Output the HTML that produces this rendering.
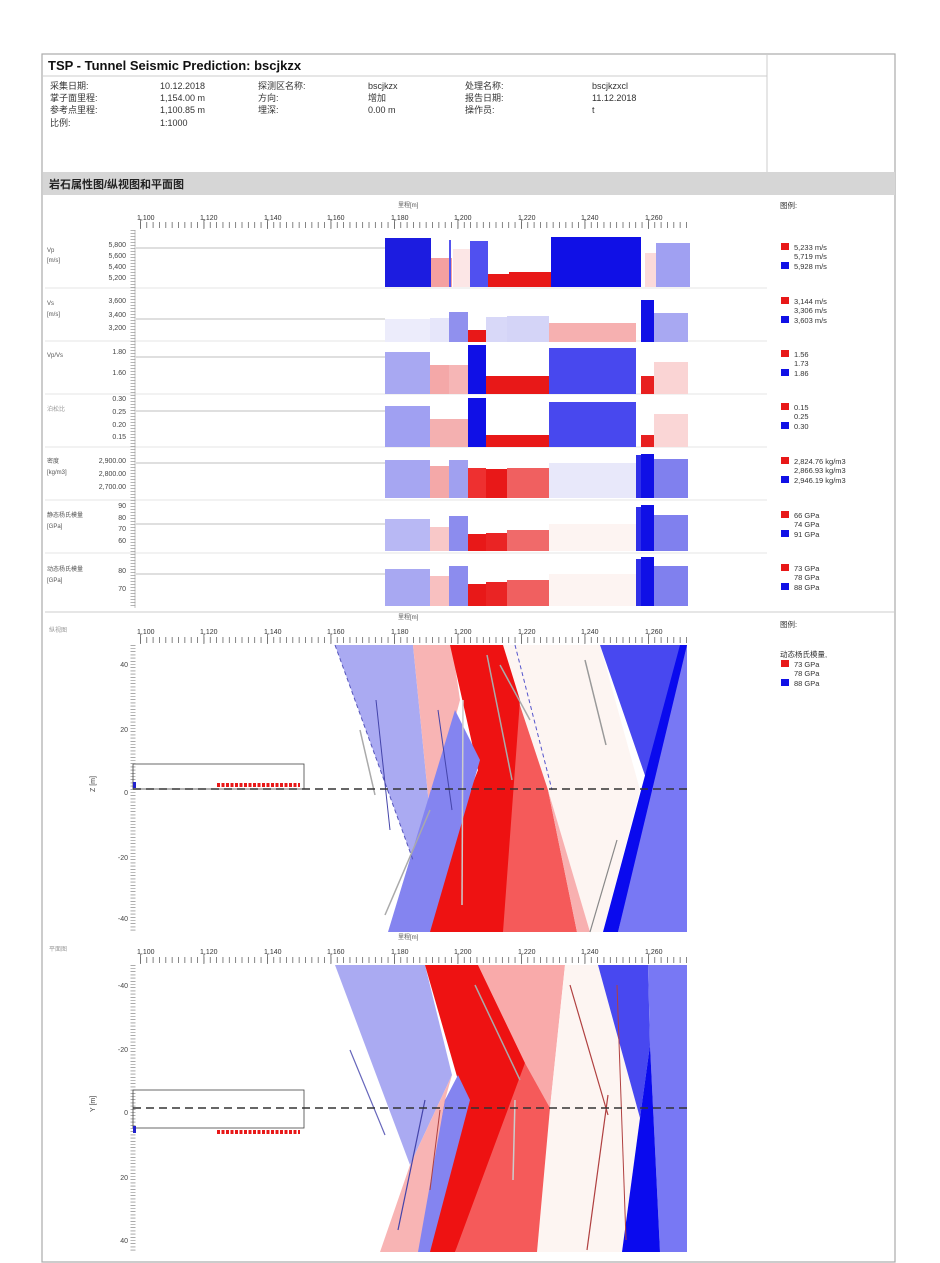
<!DOCTYPE html>
<html><head><meta charset="utf-8"><style>
body{margin:0;background:#fff;}
svg{display:block;font-family:"Liberation Sans","Noto Sans CJK SC",sans-serif;}
</style></head><body>
<svg width="940" height="1263" viewBox="0 0 940 1263" xmlns="http://www.w3.org/2000/svg">
<rect x="0" y="0" width="940" height="1263" fill="#fff"/>
<rect x="42" y="54" width="853" height="1208" fill="none" stroke="#aaa" stroke-width="1.2"/>
<line x1="42" y1="76" x2="767" y2="76" stroke="#ccc"/>
<line x1="767" y1="54" x2="767" y2="172" stroke="#ccc"/>
<text x="48" y="70" font-size="13" font-weight="bold" fill="#111">TSP - Tunnel Seismic Prediction: bscjkzx</text>
<g font-size="9" fill="#333">
<text x="50" y="89">采集日期:</text><text x="160" y="89">10.12.2018</text><text x="258" y="89">探测区名称:</text><text x="368" y="89">bscjkzx</text><text x="465" y="89">处理名称:</text><text x="592" y="89">bscjkzxcl</text>
<text x="50" y="101">掌子面里程:</text><text x="160" y="101">1,154.00 m</text><text x="258" y="101">方向:</text><text x="368" y="101">增加</text><text x="465" y="101">报告日期:</text><text x="592" y="101">11.12.2018</text>
<text x="50" y="113">参考点里程:</text><text x="160" y="113">1,100.85 m</text><text x="258" y="113">埋深:</text><text x="368" y="113">0.00 m</text><text x="465" y="113">操作员:</text><text x="592" y="113">t</text>
<text x="50" y="126">比例:</text><text x="160" y="126">1:1000</text>
</g>
<rect x="43" y="172" width="852" height="23" fill="#d6d6d6"/>
<text x="49" y="188" font-size="11" font-weight="bold" fill="#222">岩石属性图/纵视图和平面图</text>

<!-- top axis -->
<text x="398" y="207" font-size="6" fill="#555">里程[m]</text>
<g font-size="7" fill="#333">
<text x="137" y="220">1,100</text><text x="200" y="220">1,120</text><text x="264" y="220">1,140</text><text x="327" y="220">1,160</text><text x="391" y="220">1,180</text><text x="454" y="220">1,200</text><text x="518" y="220">1,220</text><text x="581" y="220">1,240</text><text x="645" y="220">1,260</text>
</g>
<line x1="140" y1="225" x2="687" y2="225" stroke="#666" stroke-width="6" stroke-dasharray="0.8 5.55"/>
<line x1="140" y1="224" x2="687" y2="224" stroke="#666" stroke-width="10" stroke-dasharray="0.8 62.7"/>
<g stroke="#e6e6e6" stroke-width="1">
<line x1="45" y1="288" x2="767" y2="288"/><line x1="45" y1="341" x2="767" y2="341"/><line x1="45" y1="394" x2="767" y2="394"/><line x1="45" y1="447" x2="767" y2="447"/><line x1="45" y1="500" x2="767" y2="500"/><line x1="45" y1="553" x2="767" y2="553"/><line x1="45" y1="612" x2="895" y2="612" stroke="#ccc"/>
</g>
<line x1="133" y1="230" x2="133" y2="608" stroke="#888" stroke-width="5" stroke-dasharray="0.6 2.4"/>
<line x1="135" y1="230" x2="135" y2="608" stroke="#999" stroke-width="0.6"/>
<g font-size="7" fill="#444" text-anchor="end">
<text x="126" y="247">5,800</text><text x="126" y="258">5,600</text><text x="126" y="269">5,400</text><text x="126" y="280">5,200</text>
<text x="126" y="303">3,600</text><text x="126" y="317">3,400</text><text x="126" y="330">3,200</text>
<text x="126" y="354">1.80</text><text x="126" y="375">1.60</text>
<text x="126" y="401">0.30</text><text x="126" y="414">0.25</text><text x="126" y="427">0.20</text><text x="126" y="439">0.15</text>
<text x="126" y="463">2,900.00</text><text x="126" y="476">2,800.00</text><text x="126" y="489">2,700.00</text>
<text x="126" y="508">90</text><text x="126" y="520">80</text><text x="126" y="531">70</text><text x="126" y="543">60</text>
<text x="126" y="573">80</text><text x="126" y="591">70</text>
</g>
<g font-size="6" fill="#555">
<text x="47" y="252">Vp</text><text x="47" y="262">[m/s]</text>
<text x="47" y="305">Vs</text><text x="47" y="316">[m/s]</text>
<text x="47" y="357">Vp/Vs</text>
<text x="47" y="411" fill="#999">泊松比</text>
<text x="47" y="463">密度</text><text x="47" y="474">[kg/m3]</text>
<text x="47" y="517">静态杨氏模量</text><text x="47" y="528">[GPa]</text>
<text x="47" y="571">动态杨氏模量</text><text x="47" y="582">[GPa]</text>
</g>
<g stroke="#aaa" stroke-width="0.8">
<line x1="136" y1="248" x2="385" y2="248"/><line x1="136" y1="319" x2="385" y2="319"/><line x1="136" y1="357" x2="385" y2="357"/><line x1="136" y1="411" x2="385" y2="411"/><line x1="136" y1="463" x2="385" y2="463"/><line x1="136" y1="524" x2="385" y2="524"/><line x1="136" y1="574" x2="385" y2="574"/>
</g>
<!-- Vp -->
<g>
<rect x="385" y="238" width="46" height="49" fill="#1c1ce0"/>
<rect x="431" y="258" width="21" height="29" fill="#f4a0a0"/>
<rect x="453" y="249" width="17" height="38" fill="#fce6e6"/>
<rect x="449" y="240" width="2" height="47" fill="#5555ee"/>
<rect x="470" y="241" width="18" height="46" fill="#5050f0"/>
<rect x="488" y="274" width="21" height="13" fill="#e81818"/>
<rect x="509" y="272" width="42" height="15" fill="#e81818"/>
<rect x="551" y="237" width="90" height="50" fill="#1010e6"/>
<rect x="645" y="253" width="11" height="34" fill="#fbdada"/>
<rect x="656" y="243" width="34" height="44" fill="#a0a0f2"/>
<!-- Vs -->
<rect x="385" y="319" width="45" height="23" fill="#ececfb"/>
<rect x="430" y="318" width="19" height="24" fill="#e6e6fa"/>
<rect x="449" y="312" width="19" height="30" fill="#9090ee"/>
<rect x="468" y="330" width="18" height="12" fill="#e81818"/>
<rect x="486" y="317" width="21" height="25" fill="#d8d8f8"/>
<rect x="507" y="316" width="42" height="26" fill="#d4d4f7"/>
<rect x="549" y="323" width="87" height="19" fill="#f6b0b0"/>
<rect x="641" y="300" width="13" height="42" fill="#1010e6"/>
<rect x="654" y="313" width="34" height="29" fill="#a8a8f2"/>
<!-- Vp/Vs -->
<rect x="385" y="352" width="45" height="42" fill="#a8a8f2"/>
<rect x="430" y="365" width="19" height="29" fill="#f4a8a8"/>
<rect x="449" y="365" width="19" height="29" fill="#f6b6b6"/>
<rect x="468" y="345" width="18" height="49" fill="#1010e6"/>
<rect x="486" y="376" width="63" height="18" fill="#e81818"/>
<rect x="549" y="348" width="87" height="46" fill="#4848ee"/>
<rect x="641" y="376" width="13" height="18" fill="#e82020"/>
<rect x="654" y="362" width="34" height="32" fill="#fad4d4"/>
<!-- Poisson -->
<rect x="385" y="406" width="45" height="41" fill="#a0a0f2"/>
<rect x="430" y="419" width="38" height="28" fill="#f4b0b0"/>
<rect x="468" y="398" width="18" height="49" fill="#1010e6"/>
<rect x="486" y="435" width="63" height="12" fill="#e81818"/>
<rect x="549" y="402" width="87" height="45" fill="#4848ee"/>
<rect x="641" y="435" width="13" height="12" fill="#e82020"/>
<rect x="654" y="414" width="34" height="33" fill="#fad6d6"/>
<!-- density -->
<rect x="385" y="460" width="45" height="38" fill="#a6a6f2"/>
<rect x="430" y="466" width="19" height="32" fill="#f4a8a8"/>
<rect x="449" y="460" width="19" height="38" fill="#a0a0f0"/>
<rect x="468" y="468" width="18" height="30" fill="#ee3030"/>
<rect x="486" y="469" width="21" height="29" fill="#e81818"/>
<rect x="507" y="468" width="42" height="30" fill="#f06060"/>
<rect x="549" y="463" width="87" height="35" fill="#e8e8fa"/>
<rect x="636" y="455" width="5" height="43" fill="#3030e8"/>
<rect x="641" y="454" width="13" height="44" fill="#1010e6"/>
<rect x="654" y="459" width="34" height="39" fill="#8080ee"/>
<!-- static -->
<rect x="385" y="519" width="45" height="32" fill="#b8b8f4"/>
<rect x="430" y="527" width="19" height="24" fill="#f8c8c8"/>
<rect x="449" y="516" width="19" height="35" fill="#8c8cee"/>
<rect x="468" y="534" width="18" height="17" fill="#e81818"/>
<rect x="486" y="533" width="21" height="18" fill="#ea2424"/>
<rect x="507" y="530" width="42" height="21" fill="#f06a6a"/>
<rect x="549" y="524" width="87" height="27" fill="#fdf4f2"/>
<rect x="636" y="507" width="5" height="44" fill="#3030e8"/>
<rect x="641" y="505" width="13" height="46" fill="#1010e6"/>
<rect x="654" y="515" width="34" height="36" fill="#8080ee"/>
<!-- dynamic -->
<rect x="385" y="569" width="45" height="37" fill="#a8a8f2"/>
<rect x="430" y="576" width="19" height="30" fill="#f8c0c0"/>
<rect x="449" y="566" width="19" height="40" fill="#8c8cee"/>
<rect x="468" y="584" width="18" height="22" fill="#e81818"/>
<rect x="486" y="582" width="21" height="24" fill="#ea2424"/>
<rect x="507" y="580" width="42" height="26" fill="#f06060"/>
<rect x="549" y="574" width="87" height="32" fill="#fdf4f2"/>
<rect x="636" y="559" width="5" height="47" fill="#3030e8"/>
<rect x="641" y="557" width="13" height="49" fill="#1010e6"/>
<rect x="654" y="566" width="34" height="40" fill="#8080ee"/>
</g>
<!-- legends -->
<g font-size="7.5" fill="#333">
<text x="780" y="208">图例:</text>
<rect x="781" y="243" width="8" height="7" fill="#e81818"/><text x="794" y="250">5,233 m/s</text><text x="794" y="259">5,719 m/s</text><rect x="781" y="262" width="8" height="7" fill="#1010e6"/><text x="794" y="269">5,928 m/s</text>
<rect x="781" y="297" width="8" height="7" fill="#e81818"/><text x="794" y="304">3,144 m/s</text><text x="794" y="313">3,306 m/s</text><rect x="781" y="316" width="8" height="7" fill="#1010e6"/><text x="794" y="323">3,603 m/s</text>
<rect x="781" y="350" width="8" height="7" fill="#e81818"/><text x="794" y="357">1.56</text><text x="794" y="366">1.73</text><rect x="781" y="369" width="8" height="7" fill="#1010e6"/><text x="794" y="376">1.86</text>
<rect x="781" y="403" width="8" height="7" fill="#e81818"/><text x="794" y="410">0.15</text><text x="794" y="419">0.25</text><rect x="781" y="422" width="8" height="7" fill="#1010e6"/><text x="794" y="429">0.30</text>
<rect x="781" y="457" width="8" height="7" fill="#e81818"/><text x="794" y="464">2,824.76 kg/m3</text><text x="794" y="473">2,866.93 kg/m3</text><rect x="781" y="476" width="8" height="7" fill="#1010e6"/><text x="794" y="483">2,946.19 kg/m3</text>
<rect x="781" y="511" width="8" height="7" fill="#e81818"/><text x="794" y="518">66 GPa</text><text x="794" y="527">74 GPa</text><rect x="781" y="530" width="8" height="7" fill="#1010e6"/><text x="794" y="537">91 GPa</text>
<rect x="781" y="564" width="8" height="7" fill="#e81818"/><text x="794" y="571">73 GPa</text><text x="794" y="580">78 GPa</text><rect x="781" y="583" width="8" height="7" fill="#1010e6"/><text x="794" y="590">88 GPa</text>
<text x="780" y="627">图例:</text>
<text x="780" y="657">动态杨氏模量,</text>
<rect x="781" y="660" width="8" height="7" fill="#e81818"/><text x="794" y="667">73 GPa</text><text x="794" y="676">78 GPa</text><rect x="781" y="679" width="8" height="7" fill="#1010e6"/><text x="794" y="686">88 GPa</text>
</g>

<!-- Longitudinal view -->
<text x="49" y="632" font-size="6" fill="#999">纵视图</text>
<text x="398" y="619" font-size="6" fill="#555">里程[m]</text>
<g font-size="7" fill="#333">
<text x="137" y="634">1,100</text><text x="200" y="634">1,120</text><text x="264" y="634">1,140</text><text x="327" y="634">1,160</text><text x="391" y="634">1,180</text><text x="454" y="634">1,200</text><text x="518" y="634">1,220</text><text x="581" y="634">1,240</text><text x="645" y="634">1,260</text>
</g>
<line x1="140" y1="640" x2="687" y2="640" stroke="#666" stroke-width="6" stroke-dasharray="0.8 5.55"/>
<line x1="140" y1="639" x2="687" y2="639" stroke="#666" stroke-width="10" stroke-dasharray="0.8 62.7"/>
<line x1="133" y1="645" x2="133" y2="932" stroke="#777" stroke-width="5" stroke-dasharray="0.6 2.6"/>
<g font-size="7" fill="#444" text-anchor="end"><text x="128" y="667">40</text><text x="128" y="732">20</text><text x="128" y="795">0</text><text x="128" y="860">-20</text><text x="128" y="921">-40</text></g>
<text x="95" y="792" font-size="7" fill="#444" transform="rotate(-90 95 792)">Z [m]</text>
<g>
<polygon points="335,645 413,645 430,815 413,860" fill="#aaaaf2"/>
<polygon points="413,645 452,645 460,700 430,815" fill="#f8b4b4"/>
<polygon points="500,645 600,645 640,790 603,932 590,932 548,790" fill="#fdf5f2"/>
<polygon points="500,645 548,790 577,932 503,932" fill="#f55a5a"/>
<polygon points="548,790 590,932 577,932" fill="#f8b0b0"/>
<polygon points="450,645 503,645 520,700 503,932 415,932 478,770" fill="#ee1212"/>
<polygon points="455,710 480,760 430,932 388,932" fill="#8484f0"/>
<polygon points="600,645 687,645 650,790" fill="#4848f0"/>
<polygon points="650,790 687,645 687,932 618,932" fill="#7878f4"/>
<polygon points="680,645 687,645 618,932 603,932" fill="#0a0aee"/>
<line x1="335" y1="645" x2="413" y2="860" stroke="#5555bb" stroke-width="1" stroke-dasharray="4 3"/>
<line x1="515" y1="645" x2="552" y2="790" stroke="#5555cc" stroke-width="1" stroke-dasharray="4 3"/>
<line x1="376" y1="700" x2="390" y2="830" stroke="#4444aa" stroke-width="1"/>
<line x1="438" y1="710" x2="452" y2="810" stroke="#4444aa" stroke-width="1"/>
<line x1="487" y1="655" x2="512" y2="780" stroke="#aaa" stroke-width="1.5"/>
<line x1="500" y1="665" x2="530" y2="720" stroke="#aaa" stroke-width="1.5"/>
<line x1="585" y1="660" x2="606" y2="745" stroke="#999" stroke-width="1.5"/>
<line x1="360" y1="730" x2="375" y2="795" stroke="#aaa" stroke-width="1.5"/>
<line x1="463" y1="700" x2="462" y2="905" stroke="#ccc" stroke-width="1.5"/>
<line x1="385" y1="915" x2="430" y2="810" stroke="#aaa" stroke-width="1.5"/>
<line x1="590" y1="932" x2="617" y2="840" stroke="#888" stroke-width="1.2"/>
</g>
<rect x="133" y="764" width="171" height="25" fill="none" stroke="#444" stroke-width="0.8"/>
<line x1="217" y1="785" x2="300" y2="785" stroke="#e81818" stroke-width="4" stroke-dasharray="3 1.5"/>
<rect x="133" y="782" width="3" height="6" fill="#2222cc"/>
<line x1="133" y1="789" x2="687" y2="789" stroke="#333" stroke-width="1.6" stroke-dasharray="8 5"/>

<!-- Plan view -->
<text x="49" y="951" font-size="6" fill="#999">平面图</text>
<text x="398" y="939" font-size="6" fill="#555">里程[m]</text>
<g font-size="7" fill="#333">
<text x="137" y="954">1,100</text><text x="200" y="954">1,120</text><text x="264" y="954">1,140</text><text x="327" y="954">1,160</text><text x="391" y="954">1,180</text><text x="454" y="954">1,200</text><text x="518" y="954">1,220</text><text x="581" y="954">1,240</text><text x="645" y="954">1,260</text>
</g>
<line x1="140" y1="960" x2="687" y2="960" stroke="#666" stroke-width="6" stroke-dasharray="0.8 5.55"/>
<line x1="140" y1="959" x2="687" y2="959" stroke="#666" stroke-width="10" stroke-dasharray="0.8 62.7"/>
<line x1="133" y1="965" x2="133" y2="1252" stroke="#777" stroke-width="5" stroke-dasharray="0.6 2.6"/>
<g font-size="7" fill="#444" text-anchor="end"><text x="128" y="988">-40</text><text x="128" y="1052">-20</text><text x="128" y="1115">0</text><text x="128" y="1180">20</text><text x="128" y="1243">40</text></g>
<text x="95" y="1112" font-size="7" fill="#444" transform="rotate(-90 95 1112)">Y [m]</text>
<g>
<polygon points="335,965 425,965 452,1075 410,1165" fill="#aaaaf2"/>
<polygon points="452,1075 410,1165 380,1252 420,1252 445,1100" fill="#f8b4b4"/>
<polygon points="478,965 565,965 550,1108 525,1063" fill="#f9aaaa"/>
<polygon points="565,965 598,965 640,1118 622,1252 537,1252 550,1108" fill="#fdf5f2"/>
<polygon points="525,1063 550,1108 537,1252 455,1252 490,1130" fill="#f55a5a"/>
<polygon points="425,965 478,965 525,1063 455,1252 420,1252 445,1100 458,1080" fill="#ee1212"/>
<polygon points="458,1075 470,1100 430,1252 418,1252 445,1100" fill="#8484f0"/>
<polygon points="598,965 648,965 650,1045 640,1118" fill="#4848f0"/>
<polygon points="648,965 687,965 687,1252 660,1252 650,1045" fill="#7878f4"/>
<polygon points="650,1045 660,1252 622,1252 640,1118" fill="#0a0aee"/>
<line x1="350" y1="1050" x2="385" y2="1135" stroke="#6666bb" stroke-width="1.2"/>
<line x1="475" y1="985" x2="520" y2="1080" stroke="#aaa" stroke-width="1.5"/>
<line x1="570" y1="985" x2="608" y2="1115" stroke="#b04040" stroke-width="1.2"/>
<line x1="608" y1="1095" x2="587" y2="1250" stroke="#b04040" stroke-width="1.2"/>
<line x1="617" y1="985" x2="626" y2="1240" stroke="#b04040" stroke-width="1"/>
<line x1="515" y1="1100" x2="513" y2="1180" stroke="#ccc" stroke-width="1.5"/>
<line x1="425" y1="1100" x2="398" y2="1230" stroke="#4444aa" stroke-width="1.2"/>
<line x1="440" y1="1110" x2="430" y2="1190" stroke="#b04040" stroke-width="1"/>
</g>
<rect x="133" y="1090" width="171" height="38" fill="none" stroke="#444" stroke-width="0.8"/>
<line x1="217" y1="1132" x2="300" y2="1132" stroke="#e81818" stroke-width="4" stroke-dasharray="3 1.5"/>
<rect x="133" y="1126" width="3" height="7" fill="#2222cc"/>
<line x1="133" y1="1108" x2="687" y2="1108" stroke="#333" stroke-width="1.6" stroke-dasharray="8 5"/>
</svg>
</body></html>
